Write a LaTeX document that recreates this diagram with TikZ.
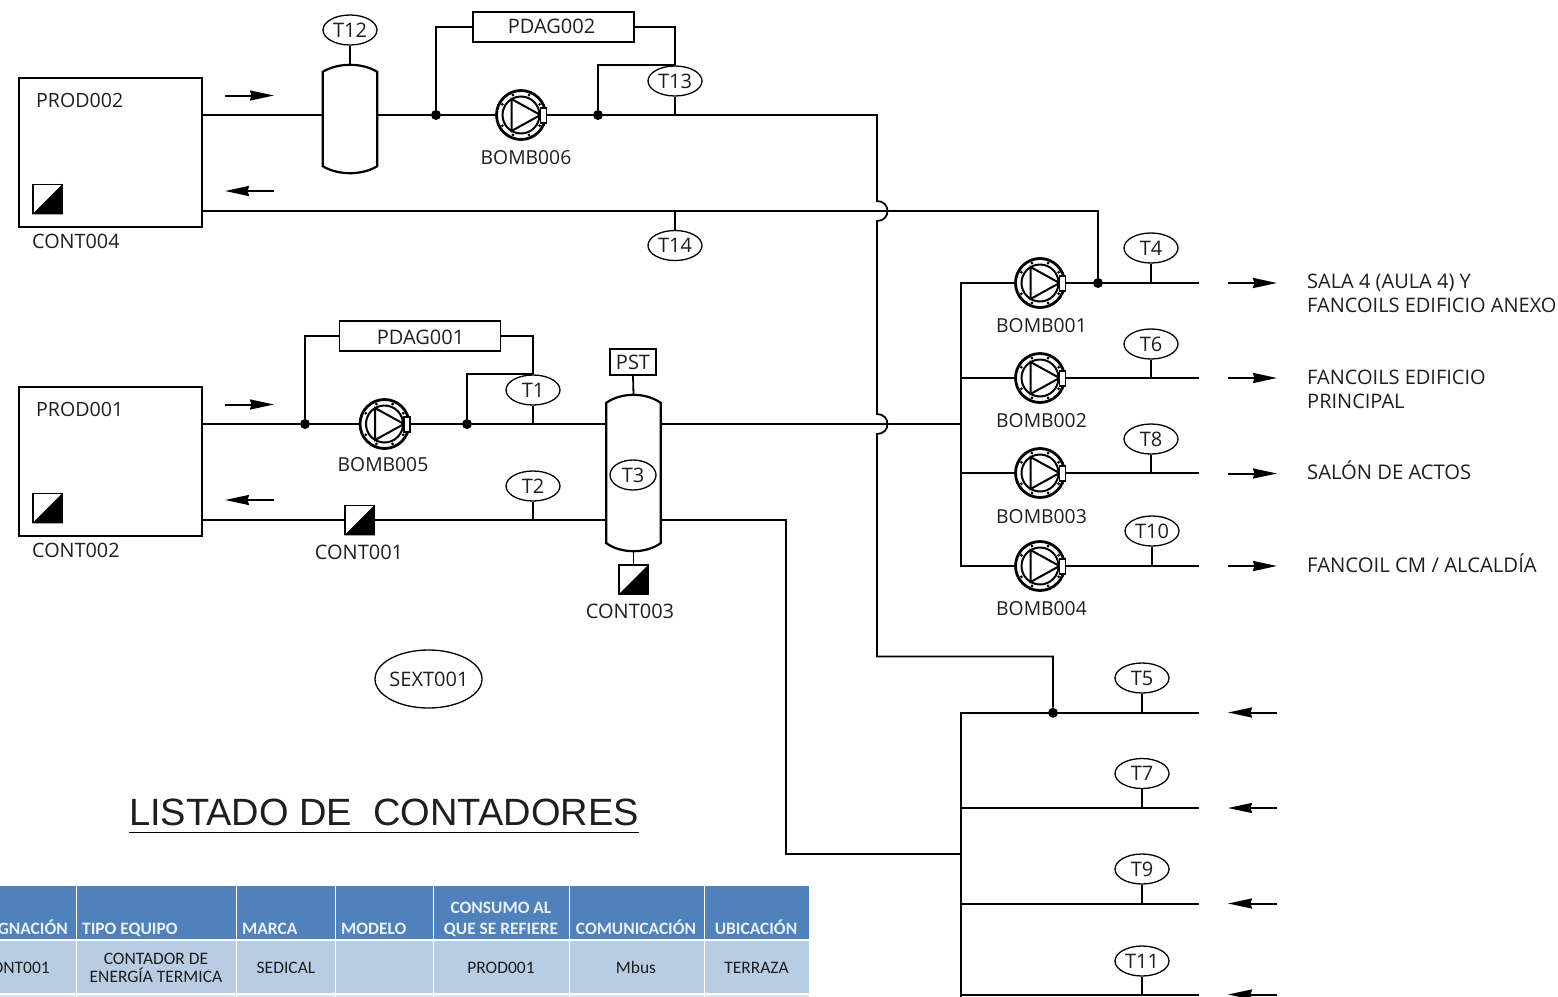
\documentclass[tikz,border=0pt]{standalone}
\usepackage{fontspec}
\setmainfont{Open Sans}
\newfontfamily\tablefont{Carlito}
\newfontfamily\titlefont{Liberation Sans}
\usetikzlibrary{arrows.meta,calc,shapes.geometric}
\definecolor{txt}{HTML}{1E1E1E}
\definecolor{hdr}{HTML}{4F81BD}
\definecolor{rowa}{HTML}{B8CCE4}
\definecolor{rowb}{HTML}{DCE6F1}
\tikzset{
  pipe/.style={draw=black,line width=1.8pt,line join=miter},
  lbl/.style={text=txt,font=\fontsize{20}{24}\selectfont,inner sep=0pt},
  pumplbl/.style={text=txt,font=\fontsize{19.3}{24}\selectfont,inner sep=0pt},
  tag/.style={draw=black,line width=1.3pt,ellipse,minimum width=54pt,minimum height=30pt,inner sep=0pt,text=txt,font=\fontsize{20}{24}\selectfont},
  databox/.style={draw=black,line width=1.3pt,rectangle,inner sep=0pt,text=txt,font=\fontsize{20}{24}\selectfont},
  unit/.style={draw=black,line width=2.2pt,rectangle,inner sep=0pt},
  joint/.style={circle,fill=black,minimum size=10pt,inner sep=0pt},
  pumpbody/.style={circle,draw=black,line width=2.8pt,minimum size=49pt,inner sep=0pt},
  meter/.style={rectangle,draw=black,line width=1.6pt,minimum size=29pt,inner sep=0pt},
  tankbody/.style={rectangle,minimum width=54pt,inner sep=0pt},
  flow/.style={draw=black,line width=2pt,-{Stealth[length=24pt,width=10pt,inset=1.5pt]}},
  hdrtxt/.style={text=white!88!hdr,font=\tablefont\bfseries\fontsize{17.4}{21}\selectfont,inner sep=0pt,align=center},
  celltxt/.style={text=txt,font=\tablefont\fontsize{17.5}{17}\selectfont,inner sep=0pt,align=center},
}
\newcommand{\pumpat}[3]{% name, x, y
  \node[pumpbody] (#1) at (#2,#3) {};
  \draw[line width=2pt] (#2,#3) circle (18.5pt);
  \foreach \a in {30,68,112,150,210,248,292,330}
    \fill ($(#2,#3)+(\a:21.5pt)$) circle (1.6pt);
  \draw[line width=2pt,line join=miter] ($(#2,#3)+(-9.5,-16)$) -- ($(#2,#3)+(19.5,0)$) -- ($(#2,#3)+(-9.5,16)$) -- cycle;
  \draw[line width=1.8pt,fill=white] ($(#2,#3)+(19.5,-7)$) rectangle ($(#2,#3)+(25.5,8)$);
}
\newcommand{\meterat}[3]{% name, x, y
  \node[meter] (#1) at (#2,#3) {};
  \fill[black] (#1.north east) -- (#1.south east) -- (#1.south west) -- cycle;
}
\newcommand{\tankat}[5]{% name, x, top, bottom, inset
  \pgfmathsetmacro{\tkcy}{(#3+#4)/2}
  \pgfmathsetmacro{\tkh}{#4-#3}
  \node[tankbody,minimum height=\tkh pt] (#1) at (#2,\tkcy) {};
  \draw[line width=2.2pt,line join=miter,fill=white]
    ($(#1.north west)+(0,#5)$) .. controls ($(#1.north)+(-12,-#5/3)$) and ($(#1.north)+(12,-#5/3)$) .. ($(#1.north east)+(0,#5)$)
    -- ($(#1.south east)+(0,-#5)$) .. controls ($(#1.south)+(12,#5/3)$) and ($(#1.south)+(-12,#5/3)$) .. ($(#1.south west)+(0,-#5)$) -- cycle;
}
\begin{document}
\begin{tikzpicture}[x=1pt,y=-1pt]
\useasboundingbox (0,0) rectangle (1558,996);
\clip (0,0) rectangle (1558,996);
% units
\node[unit,minimum width=183pt,minimum height=149pt] (prod2) at (110.5,152.5) {};
\node[unit,minimum width=183pt,minimum height=149pt] (prod1) at (110.5,461.5) {};
\node[lbl,anchor=west,font=\fontsize{19.6}{24}\selectfont] (prod2t) at (36,100) {PROD002};
\node[lbl,anchor=west,font=\fontsize{19.6}{24}\selectfont] (prod1t) at (36,409) {PROD001};
\meterat{cont4}{47.5}{199}
\meterat{cont2}{47.5}{508}
\node[lbl,anchor=west,font=\fontsize{19.8}{24}\selectfont] (cont4t) at (32,241) {CONT004};
\node[lbl,anchor=west,font=\fontsize{19.8}{24}\selectfont] (cont2t) at (32,550) {CONT002};
% upper loop
\coordinate (hop1a) at (877,201);
\coordinate (hop1b) at (877,221);
\coordinate (hop2a) at (877,414);
\coordinate (hop2b) at (877,434);
\coordinate (cornerA) at (877,115);
\coordinate (cornerB) at (877,656.5);
\coordinate (cornerC) at (1053,656.5);
\coordinate (cornerD) at (1098,211);
\coordinate (cornerE) at (786,520);
\coordinate (cornerF) at (786,854);
\coordinate (busA1) at (961,283);
\coordinate (busA2) at (961,566);
\coordinate (busB1) at (961,712.8);
\coordinate (busB2) at (961,1000);
\coordinate (busjoin) at (961,424);
\coordinate (busjoinB) at (961,854);
\tankat{tank2}{350}{65}{173}{7}
\tankat{tank1}{633.5}{395}{551}{8}
\pumpat{b6}{521}{115}
\pumpat{b5}{384.5}{424}
\pumpat{b1}{1040}{283}
\pumpat{b2}{1040}{378}
\pumpat{b3}{1040}{473}
\pumpat{b4}{1040}{566}
\node[joint] (j1) at (436,115) {};
\node[joint] (j2) at (598,115) {};
\node[joint] (j3) at (305,424) {};
\node[joint] (j4) at (467,424) {};
\node[joint] (j5) at (1098,283) {};
\node[joint] (j6) at (1053,712.8) {};
\node[databox,minimum width=161pt,minimum height=30pt] (pdag2) at (553.5,27) {};
\node[lbl] (pdag2t) at (551.5,26) {PDAG002};
\node[databox,minimum width=161pt,minimum height=30pt] (pdag1) at (420,336) {};
\node[lbl] (pdag1t) at (420.5,337) {PDAG001};
\node[databox,minimum width=46pt,minimum height=26pt] (pst) at (633,362) {PST};
\node[tag] (t12) at (350,30) {T12};
\node[tag] (t13) at (675,81) {T13};
\node[tag] (t14) at (675,245.5) {T14};
\node[tag] (t1) at (533,390) {T1};
\node[tag] (t2) at (533,486) {T2};
\node[tag,minimum width=46pt,minimum height=30pt] (t3) at (633,475) {T3};
\node[tag] (t4) at (1151,248) {T4};
\node[tag] (t6) at (1151,344) {T6};
\node[tag] (t8) at (1151,439) {T8};
\node[tag] (t10) at (1152,531) {T10};
\node[tag] (t5) at (1142,678) {T5};
\node[tag] (t7) at (1142,773.5) {T7};
\node[tag] (t9) at (1142,869) {T9};
\node[tag] (t11) at (1142,961) {T11};
\meterat{cont1}{359.5}{520}
\meterat{cont3}{633.5}{579.5}
\node[draw=black,line width=1.3pt,ellipse,minimum width=107pt,minimum height=58pt,inner sep=0pt] (sext) at (428.5,679) {};
\node[lbl] (sextt) at (429,679) {SEXT001};
% pipes, top circuit
\draw[pipe] (prod2.east |- j1) -- (tank2.west |- j1);
\draw[pipe] (tank2.east |- j1) -- (j1) -- (b6.west);
\draw[pipe] (b6.east) -- (j2) -- (cornerA) -- (hop1a)
  .. controls ($(hop1a)+(14,0)$) and ($(hop1b)+(14,0)$) .. (hop1b) -- (hop2a)
  .. controls ($(hop2a)+(14,0)$) and ($(hop2b)+(14,0)$) .. (hop2b) -- (cornerB) -- (cornerC) -- (j6);
\draw[pipe] (j1) |- (pdag2.west);
\draw[pipe] (pdag2.east) -| (t13.north);
\draw[pipe] (j2) |- (t13.north);
\draw[pipe] (t13.south) -- (t13.south |- j2);
\draw[pipe] (t12.south) -- (tank2.north);
\draw[pipe] (prod2.east |- cornerD) -- (cornerD) -- (j5);
\draw[pipe] (t14.north) -- (t14.north |- cornerD);
% pipes, lower circuit
\draw[pipe] (prod1.east |- j3) -- (j3) -- (b5.west);
\draw[pipe] (b5.east) -- (j4) -- (tank1.west |- j4);
\draw[pipe] (j3) |- (pdag1.west);
\draw[pipe] (pdag1.east) -| (t1.north);
\draw[pipe] (j4) |- (t1.north);
\draw[pipe] (t1.south) -- (t1.south |- j4);
\draw[pipe] (prod1.east |- cont1) -- (cont1.west);
\draw[pipe] (cont1.east) -- (tank1.west |- cont1);
\draw[pipe] (t2.south) -- (t2.south |- cont1);
\draw[pipe] (pst.south) -- (tank1.north);
\draw[pipe] (tank1.south) -- (cont3.north);
\draw[pipe] (tank1.east |- j4) -- (busjoin);
\draw[pipe] (tank1.east |- cornerE) -- (cornerE) -- (cornerF) -- (busjoinB);
% right buses
\draw[pipe] (b1.west) -- (busA1) -- (busA2) -- (b4.west);
\draw[pipe] (b2.west) -- (b2.west -| busA1);
\draw[pipe] (b3.west) -- (b3.west -| busA1);
\coordinate (end1) at (1199,283);
\coordinate (end2) at (1199,378);
\coordinate (end3) at (1199,473);
\coordinate (end4) at (1199,566);
\coordinate (end5) at (1199,712.8);
\coordinate (end7) at (1199,808);
\coordinate (end9) at (1199,903.8);
\coordinate (end11) at (1199,995);
\draw[pipe] (b1.east) -- (end1);
\draw[pipe] (b2.east) -- (end2);
\draw[pipe] (b3.east) -- (end3);
\draw[pipe] (b4.east) -- (end4);
\draw[pipe] (t4.south) -- (t4.south |- end1);
\draw[pipe] (t6.south) -- (t6.south |- end2);
\draw[pipe] (t8.south) -- (t8.south |- end3);
\draw[pipe] (t10.south) -- (t10.south |- end4);
\draw[pipe] (busB2) -- (busB1) -- (end5);
\draw[pipe] (busB1 |- end7) -- (end7);
\draw[pipe] (busB1 |- end9) -- (end9);
\draw[pipe] (busB1 |- end11) -- (end11);
\draw[pipe] (t5.south) -- (t5.south |- end5);
\draw[pipe] (t7.south) -- (t7.south |- end7);
\draw[pipe] (t9.south) -- (t9.south |- end9);
\draw[pipe] (t11.south) -- (t11.south |- end11);
% flow arrows
\foreach \n/\xa/\ya/\xb in {f1/225/95.5/274, f2/225/404.5/274, f3/1228/283/1277, f4/1228/378/1277, f5/1228/473.5/1277, f6/1228/566/1277,
  f7/274/191/225, f8/274/500/225, f9/1277/712.5/1228, f10/1277/808/1228, f11/1277/903.5/1228, f12/1277/994.5/1228}{
  \coordinate (\n s) at (\xa,\ya);
  \coordinate (\n e) at (\xb,\ya);
  \draw[flow] (\n s) -- (\n e);
}
% labels
\node[pumplbl] (lb6) at (526,157.5) {BOMB006};
\node[pumplbl] (lb5) at (383,464.5) {BOMB005};
\node[pumplbl] (lb1) at (1041.5,325.5) {BOMB001};
\node[pumplbl] (lb2) at (1041.5,420.5) {BOMB002};
\node[pumplbl] (lb3) at (1041.5,516.5) {BOMB003};
\node[pumplbl] (lb4) at (1041.5,608.5) {BOMB004};
\node[lbl] (lc1) at (359,552) {CONT001};
\node[lbl] (lc3) at (630,611) {CONT003};
\node[lbl,anchor=west,align=left] (d1) at (1307,293) {SALA 4 (AULA 4) Y\\FANCOILS EDIFICIO ANEXO};
\node[lbl,anchor=west,align=left] (d2) at (1307,389) {FANCOILS EDIFICIO\\PRINCIPAL};
\node[lbl,anchor=west,font=\fontsize{20.2}{24}\selectfont] (d3) at (1307,470) {SALÓN DE ACTOS};
\node[lbl,anchor=west,font=\fontsize{20.3}{24}\selectfont] (d4) at (1307,563) {FANCOIL CM / ALCALDÍA};
% title
\node[anchor=base west,inner sep=0pt,text=txt,font=\titlefont\fontsize{38}{44}\selectfont] (title) at (129,825) {LISTADO DE\ \ CONTADORES};
\draw[line width=1.6pt] (title.south west |- 0,832.5) coordinate (ua) -- (title.south east |- 0,832.5);
% table
\foreach \n/\xa/\xb in {c1/-2/76,c2/77/236,c3/237/335,c4/336/433,c5/434/569,c6/570/704,c7/705/808.5}{
  \fill[hdr] (\xa,886) rectangle (\xb,939);
  \fill[rowa] (\xa,941) rectangle (\xb,993);
  \fill[rowb] (\xa,994.5) rectangle (\xb,997);
}
\node[hdrtxt,anchor=base east] (h1) at (68,934) {GNACIÓN};
\node[hdrtxt,anchor=base west] (h2) at (82,934) {TIPO EQUIPO};
\node[hdrtxt,anchor=base west] (h3) at (242,934) {MARCA};
\node[hdrtxt,anchor=base west] (h4) at (341,934) {MODELO};
\node[hdrtxt,anchor=base] (h5a) at (501,913) {CONSUMO AL};
\node[hdrtxt,anchor=base] (h5b) at (501,934) {QUE SE REFIERE};
\node[hdrtxt,anchor=base] (h6) at (636,934) {COMUNICACIÓN};
\node[hdrtxt,anchor=base] (h7) at (756,934) {UBICACIÓN};
\node[celltxt,anchor=base east] (r1) at (50,973.5) {ONT001};
\node[celltxt,anchor=base] (r2a) at (156,964.5) {CONTADOR DE};
\node[celltxt,anchor=base] (r2b) at (156,982.5) {ENERGÍA TERMICA};
\node[celltxt,anchor=base] (r3) at (286,973.5) {SEDICAL};
\node[celltxt,anchor=base] (r5) at (501,973.5) {PROD001};
\node[celltxt,anchor=base] (r6) at (636,973.5) {Mbus};
\node[celltxt,anchor=base] (r7) at (756.5,973.5) {TERRAZA};
\end{tikzpicture}
\end{document}
